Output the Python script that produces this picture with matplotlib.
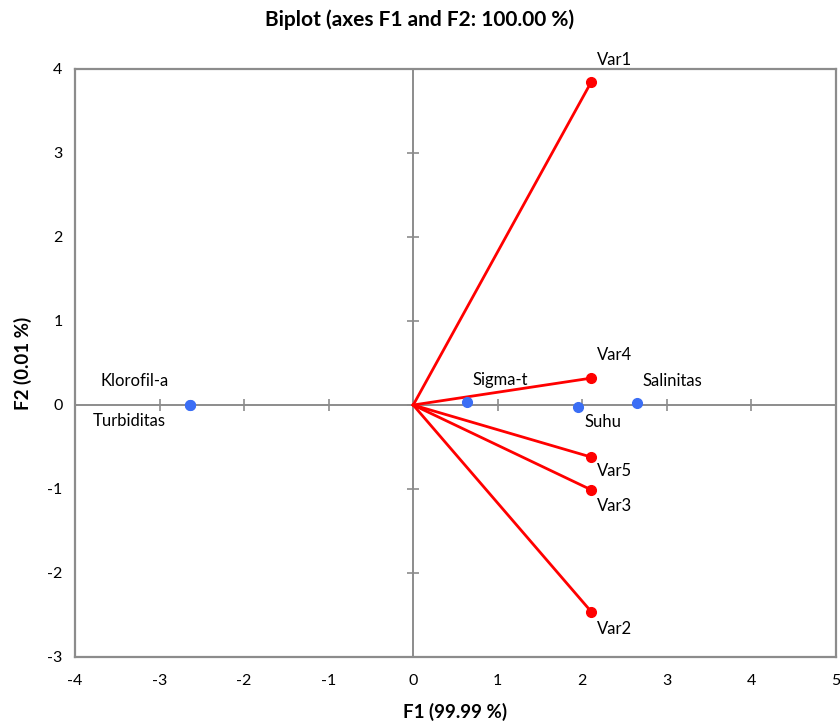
import matplotlib.pyplot as plt

plt.rcParams['font.family'] = ['Lato', 'DejaVu Sans']
plt.rcParams['axes.unicode_minus'] = False

# observations (blue points)
obs_names = ["Klorofil-a", "Turbiditas", "Sigma-t", "Suhu", "Salinitas"]
obs_f1 = [-2.637, -2.637, 0.64, 1.95, 2.65]
obs_f2 = [0.0, 0.0, 0.03, -0.02, 0.02]

# variables (red vectors)
var_names = ["Var1", "Var2", "Var3", "Var4", "Var5"]
var_f1 = [2.105, 2.105, 2.105, 2.105, 2.105]
var_f2 = [3.845, -2.46, -1.01, 0.32, -0.62]

x_ticks = [-4, -3, -2, -1, 0, 1, 2, 3, 4, 5]
y_ticks = [-3, -2, -1, 0, 1, 2, 3, 4]

# label offsets in pixels (dx, dy, ha)
obs_offsets = {
    "Klorofil-a": (-56, 24, "center"),
    "Turbiditas": (-61, -16, "center"),
    "Sigma-t": (5, 22, "left"),
    "Suhu": (6, -15, "left"),
    "Salinitas": (5, 22, "left"),
}
var_offsets = {
    "Var1": (6, 22, "left"),
    "Var2": (6, -17, "left"),
    "Var3": (6, -16, "left"),
    "Var4": (6, 23, "left"),
    "Var5": (6, -14, "left"),
}

GRAY = "#8c8c8c"
RED = "#ff0000"
BLUE = "#3b6ef5"

fig = plt.figure(figsize=(8.4, 7.24), dpi=100)
ax = fig.add_axes([75 / 840, 1 - 657 / 724, (836 - 75) / 840, (657 - 69) / 724])

ax.set_xlim(-4, 5)
ax.set_ylim(-3, 4)
ax.set_xticks(x_ticks)
ax.set_yticks(y_ticks)
ax.tick_params(length=0, labelsize=11.5, pad=12)
ax.tick_params(axis="y", pad=9)

for s in ax.spines.values():
    s.set_color(GRAY)
    s.set_linewidth(1.6)

# zero axes with crossing ticks
ax.axhline(0, color=GRAY, lw=1.4, zorder=1)
ax.axvline(0, color=GRAY, lw=1.4, zorder=1)
ax.plot(x_ticks[1:-1], [0] * len(x_ticks[1:-1]), ls="none", marker="|",
        ms=9, mew=1.2, color=GRAY, zorder=1)
ax.plot([0] * len(y_ticks[1:-1]), y_ticks[1:-1], ls="none", marker="_",
        ms=9, mew=1.2, color=GRAY, zorder=1)

# variable vectors
for name, x, y in zip(var_names, var_f1, var_f2):
    ax.plot([0, x], [0, y], color=RED, lw=2, zorder=3)
    ax.plot(x, y, "o", color=RED, ms=7, zorder=4)
    dx, dy, ha = var_offsets[name]
    ax.annotate(name, (x, y), xytext=(dx, dy), textcoords="offset pixels",
                ha=ha, va="center", fontsize=12)

# observations
ax.plot(obs_f1, obs_f2, "o", color=BLUE, ms=7, ls="none", zorder=4)
for name, x, y in zip(obs_names, obs_f1, obs_f2):
    dx, dy, ha = obs_offsets[name]
    ax.annotate(name, (x, y), xytext=(dx, dy), textcoords="offset pixels",
                ha=ha, va="center", fontsize=12)

ax.set_xlabel("F1 (99.99 %)", fontsize=13.5, fontweight="bold", labelpad=11)
ax.set_ylabel("F2 (0.01 %)", fontsize=13.5, fontweight="bold", labelpad=11)
fig.text(0.5, 1 - 20 / 724, "Biplot (axes F1 and F2: 100.00 %)",
         ha="center", va="center", fontsize=15, fontweight="bold")

fig.savefig("out.png", dpi=100)
